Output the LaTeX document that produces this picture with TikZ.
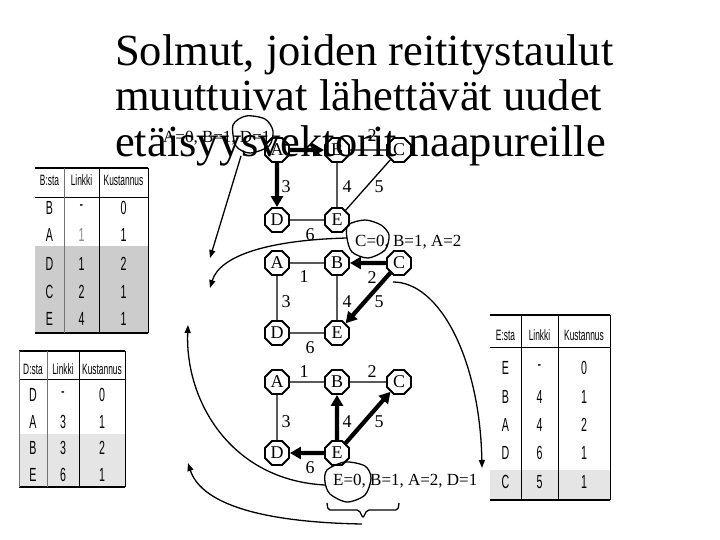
\documentclass[tikz,border=0pt]{standalone}
\usepackage{fontspec}
\setmainfont{Liberation Serif}
\newfontfamily\narrowfont[FakeStretch=0.56]{Liberation Sans}
\usetikzlibrary{shapes.geometric,arrows.meta}
\tikzset{
  oct/.style={regular polygon, regular polygon sides=8, draw, line width=1.9pt,
    fill=white, inner sep=0pt, minimum size=26pt, font=\fontsize{18}{18}\selectfont},
  thinedge/.style={line width=1.3pt},
  fatarrow/.style={line width=4.2pt, -{Triangle[length=11pt,width=12pt]}},
  curvearrow/.style={line width=1.3pt, -{Triangle[length=8pt,width=6pt]}},
  elabel/.style={font=\fontsize{18}{18}\selectfont, inner sep=0pt},
  vlabel/.style={font=\fontsize{17}{17}\selectfont, inner sep=0pt, anchor=west},
  titletext/.style={font=\fontsize{44.5}{46}\selectfont, inner sep=0pt, anchor=base west},
  thead/.style={font=\narrowfont\fontsize{15}{15}\selectfont, inner sep=0pt},
  tcell/.style={font=\narrowfont\fontsize{19}{19}\selectfont, inner sep=0pt},
  tlight/.style={tcell, text=black!45},
  rulethick/.style={line width=1.4pt},
  rulethin/.style={line width=0.7pt, draw=black!55},
  blob/.style={line width=1.3pt},
}
\begin{document}
\begin{tikzpicture}[x=1pt,y=-1pt]
\useasboundingbox[fill=white] (0,0) rectangle (720,540);

% ---------- tables ----------
% B table
\fill[black!20] (35,246) rectangle (148,333);
\draw[rulethick] (35,168) -- (148,168);
\draw[line width=1pt] (35,198) -- (148,198);
\draw[rulethick] (35,333) -- (148,333);
\draw[line width=1pt] (148,168) -- (148,333);
\draw[rulethin] (64,168) -- (64,333);
\draw[line width=0.8pt] (99,168) -- (99,333);
\node[thead] (bh1) at (49.5,180) {B:sta};
\node[thead] (bh2) at (81.5,180) {Linkki};
\node[thead] (bh3) at (123.5,180) {Kustannus};
\node[tcell] (b11) at (49.5,208) {B};  \node[tcell] (b12) at (81.5,208) {-}; \node[tcell] (b13) at (123.5,208) {0};
\node[tcell] (b21) at (49.5,235) {A};  \node[tlight] (b22) at (81.5,235) {1}; \node[tcell] (b23) at (123.5,235) {1};
\node[tcell] (b31) at (49.5,264) {D};  \node[tcell] (b32) at (81.5,264) {1}; \node[tcell] (b33) at (123.5,264) {2};
\node[tcell] (b41) at (49.5,292) {C};  \node[tcell] (b42) at (81.5,292) {2}; \node[tcell] (b43) at (123.5,292) {1};
\node[tcell] (b51) at (49.5,319) {E};  \node[tcell] (b52) at (81.5,319) {4}; \node[tcell] (b53) at (123.5,319) {1};

% D table
\fill[black!10] (19,434) rectangle (125,487);
\draw[rulethick] (19,351) -- (125,351);
\draw[line width=1pt] (19,379) -- (125,379);
\draw[rulethick] (19,487) -- (125,487);
\draw[line width=1pt] (125,351) -- (125,487);
\draw[rulethin] (19,351) -- (19,487);
\draw[rulethin] (47,351) -- (47,487);
\draw[line width=0.8pt] (79,351) -- (79,487);
\node[thead] (dh1) at (33,369) {D:sta};
\node[thead] (dh2) at (63,369) {Linkki};
\node[thead] (dh3) at (102,369) {Kustannus};
\node[tcell] (d11) at (33,395) {D}; \node[tcell] (d12) at (63,395) {-}; \node[tcell] (d13) at (102,395) {0};
\node[tcell] (d21) at (33,422) {A}; \node[tcell] (d22) at (63,422) {3}; \node[tcell] (d23) at (102,422) {1};
\node[tcell] (d31) at (33,448) {B}; \node[tcell] (d32) at (63,448) {3}; \node[tcell] (d33) at (102,448) {2};
\node[tcell] (d41) at (33,475) {E}; \node[tcell] (d42) at (63,475) {6}; \node[tcell] (d43) at (102,475) {1};

% E table
\fill[black!10] (490,470) rectangle (610,500);
\draw[rulethick] (490,315) -- (610,315);
\draw[line width=1pt] (490,347) -- (610,347);
\draw[rulethick] (490,500) -- (610,500);
\draw[line width=1pt] (610,315) -- (610,500);
\draw[line width=0.9pt] (521,315) -- (521,500);
\draw[line width=0.9pt] (558,315) -- (558,500);
\node[thead] (eh1) at (505.5,335) {E:sta};
\node[thead] (eh2) at (539.5,335) {Linkki};
\node[thead] (eh3) at (584,335) {Kustannus};
\node[tcell] (e11) at (505.5,368) {E}; \node[tcell] (e12) at (539.5,368) {-}; \node[tcell] (e13) at (584,368) {0};
\node[tcell] (e21) at (505.5,397) {B}; \node[tcell] (e22) at (539.5,397) {4}; \node[tcell] (e23) at (584,397) {1};
\node[tcell] (e31) at (505.5,425) {A}; \node[tcell] (e32) at (539.5,425) {4}; \node[tcell] (e33) at (584,425) {2};
\node[tcell] (e41) at (505.5,453) {D}; \node[tcell] (e42) at (539.5,453) {6}; \node[tcell] (e43) at (584,453) {1};
\node[tcell] (e51) at (505.5,482) {C}; \node[tcell] (e52) at (539.5,482) {5}; \node[tcell] (e53) at (584,482) {1};

% ---------- vector labels ----------
\node[vlabel] (v1) at (163,138) {A=0, B=1, D=1};
\node[vlabel] (v2) at (355,242) {C=0, B=1, A=2};
\node[vlabel] (v3) at (333,481) {E=0, B=1, A=2, D=1};

% ---------- graph 1 ----------
\node[oct] (g1A) at (277,150) {A};
\node[oct] (g1B) at (337,150) {B};
\node[oct] (g1C) at (399,150) {C};
\node[oct] (g1D) at (277,220) {D};
\node[oct] (g1E) at (337,220) {E};
\draw[thinedge] (g1B) -- (g1C);
\draw[thinedge] (g1B) -- (g1E);
\draw[thinedge] (g1C) -- (g1E);
\draw[thinedge] (g1D) -- (g1E);
\draw[fatarrow] (g1A) -- (g1B);
\draw[fatarrow] (g1A) -- (g1D);
\node[elabel] (g1l2) at (372,136) {2};
\node[elabel] (g1l3) at (286,187) {3};
\node[elabel] (g1l4) at (347,187) {4};
\node[elabel] (g1l5) at (379,187) {5};
\node[elabel] (g1l6) at (310,235) {6};

% ---------- graph 2 ----------
\node[oct] (g2A) at (277,263) {A};
\node[oct] (g2B) at (337,263) {B};
\node[oct] (g2C) at (399,263) {C};
\node[oct] (g2D) at (277,333) {D};
\node[oct] (g2E) at (337,333) {E};
\draw[thinedge] (g2A) -- (g2B);
\draw[thinedge] (g2A) -- (g2D);
\draw[thinedge] (g2B) -- (g2E);
\draw[thinedge] (g2D) -- (g2E);
\draw[fatarrow] (g2C) -- (g2B);
\draw[fatarrow] (g2C) -- (g2E);
\node[elabel] (g2l1) at (304,277) {1};
\node[elabel] (g2l2) at (372,278) {2};
\node[elabel] (g2l3) at (286,302) {3};
\node[elabel] (g2l4) at (347,302) {4};
\node[elabel] (g2l5) at (379,302) {5};
\node[elabel] (g2l6) at (310,348) {6};

% ---------- graph 3 ----------
\node[oct] (g3A) at (277,382) {A};
\node[oct] (g3B) at (337,382) {B};
\node[oct] (g3C) at (399,382) {C};
\node[oct] (g3D) at (277,453) {D};
\node[oct] (g3E) at (337,453) {E};
\draw[thinedge] (g3A) -- (g3B);
\draw[thinedge] (g3B) -- (g3C);
\draw[thinedge] (g3A) -- (g3D);
\draw[fatarrow] (g3E) -- (g3B);
\draw[fatarrow] (g3E) -- (g3C);
\draw[fatarrow] (g3E) -- (g3D);
\node[elabel] (g3l1) at (304,372) {1};
\node[elabel] (g3l2) at (372,372) {2};
\node[elabel] (g3l3) at (286,422) {3};
\node[elabel] (g3l4) at (347,422) {4};
\node[elabel] (g3l5) at (379,422) {5};
\node[elabel] (g3l6) at (310,468) {6};

% ---------- blobs and brace ----------
\draw[blob] plot[smooth cycle] coordinates {(233,125) (246,116) (265,119) (273,131) (269,146) (250,153) (236,146)};
\draw[blob] plot[smooth cycle] coordinates {(348,225) (365,220) (381,225) (389,235) (385,250) (368,258) (352,252) (347,238)};
\draw[blob] plot[smooth cycle] coordinates {(327,470) (345,462) (365,466) (371,478) (365,495) (347,502) (330,494) (325,482)};
\draw[line width=1.3pt, rounded corners=2pt] (327,503) -- (328,510) -- (359,510) -- (363,518) -- (367,510) -- (398,510) -- (399,503);

% ---------- connectors ----------
\coordinate (c1s) at (241,156);
\coordinate (c1e) at (210,258);
\coordinate (c2s) at (347,238);
\coordinate (c2e) at (210,288);
\coordinate (c3s) at (325,485);
\coordinate (c3e) at (188,325);
\coordinate (c4s) at (362,524);
\coordinate (c4e) at (188,463);
\coordinate (c5s) at (393,282);
\coordinate (c5e) at (482,468);
\draw[curvearrow] (c1s) -- (c1e);
\draw[curvearrow] (c2s) .. controls (270,240) and (220,255) .. (c2e);
\draw[curvearrow] (c3s) .. controls (230,480) and (185,400) .. (c3e);
\draw[curvearrow] (c4s) .. controls (250,522) and (200,500) .. (c4e);
\draw[curvearrow] (c5s) .. controls (440,282) and (480,360) .. (c5e);

% ---------- title ----------
\node[titletext] (t1) at (115,66) {Solmut, joiden reititystaulut};
\node[titletext] (t2) at (115,111) {muuttuivat lähettävät uudet};
\node[titletext] (t3) at (115,157) {etäisyysvektorit naapureille};
\end{tikzpicture}
\end{document}
